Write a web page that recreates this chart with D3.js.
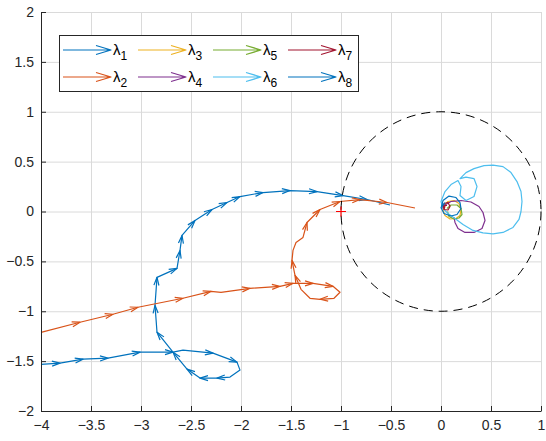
<!DOCTYPE html>
<html lang="en">
<head>
  <meta charset="UTF-8" />
  <title>Eigenvalue trajectories</title>
  <script src="https://d3js.org/d3.v7.min.js"></script>
  <style>
    body { margin: 0; background: #ffffff; }
    svg { font-family: 'Liberation Sans', Arial, sans-serif; }
    .axis text { font-size: 14px; fill: #262626; }
    .axis path, .axis line { stroke: #262626; }
    .grid line { stroke: #dadada; }
    .grid path { display: none; }
    .traj { fill: none; stroke-width: 1.2; stroke-linejoin: round; }
  </style>
</head>
<body>
  <svg id="chart" width="546" height="441"></svg>

  <script>
    // ---- data ----
    const xTicks = [-4, -3.5, -3, -2.5, -2, -1.5, -1, -0.5, 0, 0.5, 1];
    const yTicks = [-2, -1.5, -1, -0.5, 0, 0.5, 1, 1.5, 2];

    const seriesNames = ["1", "2", "3", "4", "5", "6", "7", "8"];
    const seriesColors = ["#0072BD", "#D95319", "#EDB120", "#7E2F8E",
                          "#77AC30", "#4DBEEE", "#A2142F", "#0072BD"];

    const lambda1 = [[-4.12,-1.54],[-3.81,-1.52],[-3.58,-1.48],[-3.33,-1.47],[-3.01,-1.41],
      [-2.68,-1.41],[-2.58,-1.39],[-2.28,-1.42],[-2.04,-1.51],[-2.01,-1.59],[-2.11,-1.66],
      [-2.24,-1.67],[-2.41,-1.67],[-2.54,-1.58],[-2.68,-1.41],[-2.84,-1.21],[-2.86,-0.94],
      [-2.84,-0.66],[-2.64,-0.57],[-2.61,-0.39],[-2.59,-0.24],[-2.46,-0.09],[-2.29,0.02],
      [-2.14,0.09],[-2.01,0.15],[-1.78,0.19],[-1.51,0.21],[-1.24,0.20],[-0.98,0.16],
      [-0.74,0.12],[-0.51,0.065]];

    const lambda2 = [[-4.1,-1.23],[-3.99,-1.21],[-3.61,-1.11],[-3.28,-1.03],[-3.03,-0.96],
      [-2.58,-0.87],[-2.30,-0.80],[-2.20,-0.81],[-1.91,-0.77],[-1.61,-0.75],[-1.48,-0.72],
      [-1.28,-0.72],[-1.08,-0.75],[-1.01,-0.81],[-1.07,-0.87],[-1.21,-0.88],[-1.31,-0.87],
      [-1.40,-0.78],[-1.46,-0.64],[-1.49,-0.49],[-1.48,-0.39],[-1.45,-0.31],[-1.38,-0.26],
      [-1.34,-0.11],[-1.21,0.02],[-1.01,0.10],[-0.81,0.12],[-0.54,0.09],[-0.26,0.035]];

    const lambda3 = [[0.03,0.06],[0.07,0.10],[0.13,0.11],[0.18,0.08],[0.20,0.02],[0.19,-0.04],
      [0.15,-0.07],[0.09,-0.075],[0.04,-0.04],[0.02,0.01],[0.04,0.05]];

    const lambda4 = [[0.03,0.06],[0.10,0.10],[0.20,0.11],[0.30,0.095],[0.38,0.05],[0.42,-0.01],
      [0.44,-0.09],[0.41,-0.17],[0.33,-0.21],[0.24,-0.21],[0.17,-0.17],[0.14,-0.11],[0.13,-0.06]];

    const lambda5 = [[0.06,0.03],[0.10,0.065],[0.16,0.065],[0.20,0.03],[0.21,-0.03],
      [0.18,-0.065],[0.13,-0.075],[0.08,-0.05],[0.065,0.0]];

    const lambda6 = [[0.02,0.03],[0.0,0.10],[0.04,0.20],[0.10,0.27],[0.17,0.31],[0.20,0.25],
      [0.19,0.16],[0.25,0.11],[0.33,0.15],[0.36,0.25],[0.33,0.33],[0.25,0.345],[0.19,0.33],
      [0.25,0.39],[0.33,0.43],[0.43,0.46],[0.52,0.465],[0.62,0.45],[0.70,0.39],[0.76,0.30],
      [0.80,0.20],[0.81,0.10],[0.80,0.0],[0.78,-0.08],[0.72,-0.16],[0.62,-0.21],[0.52,-0.225],
      [0.42,-0.215],[0.32,-0.19],[0.22,-0.13],[0.14,-0.07],[0.07,-0.02],[0.03,0.02]];

    const lambda7 = [[0.02,0.03],[0.03,0.08],[0.07,0.09],[0.09,0.05],[0.07,0.015],
      [0.03,0.02],[0.04,0.06],[0.06,0.06]];

    const lambda8 = [[0.0,0.03],[0.02,0.11],[0.08,0.155],[0.15,0.14],[0.19,0.09],[0.20,0.03],
      [0.16,-0.03],[0.10,-0.045],[0.03,-0.02],[0.0,0.04],[0.04,0.09]];

    const series = [lambda1, lambda2, lambda3, lambda4, lambda5, lambda6, lambda7, lambda8];

    // ---- layout ----
    const svg = d3.select("#chart");
    const mLeft = 41, mRight = 541, mTop = 12, mBottom = 411;

    const x = d3.scaleLinear().domain([-4, 1]).range([mLeft, mRight]);
    const y = d3.scaleLinear().domain([-2, 2]).range([mBottom, mTop]);

    svg.append("defs").append("clipPath").attr("id", "plotclip")
      .append("rect")
        .attr("x", mLeft).attr("y", mTop)
        .attr("width", mRight - mLeft).attr("height", mBottom - mTop);

    // grid
    svg.append("g")
        .attr("class", "grid")
        .attr("transform", `translate(0,${mBottom})`)
        .call(d3.axisBottom(x).tickValues(xTicks).tickSize(-(mBottom - mTop)).tickFormat(""));
    svg.append("g")
        .attr("class", "grid")
        .attr("transform", `translate(${mLeft},0)`)
        .call(d3.axisLeft(y).tickValues(yTicks).tickSize(-(mRight - mLeft)).tickFormat(""));

    // trajectories with arrow heads
    const plot = svg.append("g").attr("clip-path", "url(#plotclip)");
    const line = d3.line().x(d => x(d[0])).y(d => y(d[1]));

    function arrowHead(x1, y1, x2, y2, len, half) {
      const dx = x2 - x1, dy = y2 - y1;
      const L = Math.hypot(dx, dy);
      const ux = dx / L, uy = dy / L;
      const bx = x2 - ux * len, by = y2 - uy * len;
      return `M${bx - uy * half},${by + ux * half}L${x2},${y2}L${bx + uy * half},${by - ux * half}`;
    }

    series.forEach((pts, i) => {
      const g = plot.append("g");
      g.append("path")
        .attr("class", "traj")
        .attr("stroke", seriesColors[i])
        .attr("d", line(pts));
      let heads = "";
      // no head on the final segment
      for (let k = 1; k < pts.length - 1; k++) {
        const x1 = x(pts[k - 1][0]), y1 = y(pts[k - 1][1]);
        const x2 = x(pts[k][0]), y2 = y(pts[k][1]);
        if (Math.hypot(x2 - x1, y2 - y1) > 13) heads += arrowHead(x1, y1, x2, y2, 8, 2.5);
      }
      g.append("path")
        .attr("class", "traj")
        .attr("stroke", seriesColors[i])
        .attr("d", heads);
    });

    // unit circle and critical point
    svg.append("ellipse")
      .attr("cx", x(0)).attr("cy", y(0))
      .attr("rx", x(1) - x(0)).attr("ry", y(0) - y(1))
      .attr("fill", "none")
      .attr("stroke", "#000")
      .attr("stroke-width", 1)
      .attr("stroke-dasharray", "9,6");

    svg.append("path")
      .attr("d", `M${x(-1) - 5},${y(0)}h10M${x(-1)},${y(0) - 5}v10`)
      .attr("stroke", "#ff0000")
      .attr("stroke-width", 1.2);

    // axes (ticks inward)
    svg.append("g")
        .attr("class", "axis")
        .attr("transform", `translate(0,${mBottom})`)
        .call(d3.axisBottom(x).tickValues(xTicks).tickSize(-5).tickPadding(9).tickSizeOuter(0)
          .tickFormat(d3.format("")));
    svg.append("g")
        .attr("class", "axis")
        .attr("transform", `translate(${mLeft},0)`)
        .call(d3.axisLeft(y).tickValues(yTicks).tickSize(-5).tickPadding(7).tickSizeOuter(0)
          .tickFormat(d3.format("")));

    // legend
    const legend = svg.append("g");
    legend.append("rect")
      .attr("x", 59.5).attr("y", 35.5).attr("width", 299).attr("height", 56)
      .attr("fill", "#fff").attr("stroke", "#262626").attr("stroke-width", 1);

    seriesNames.forEach((name, i) => {
      const col = Math.floor(i / 2), row = i % 2;
      const lx = 63 + col * 75, ly = 50 + row * 27;
      legend.append("path")
        .attr("class", "traj")
        .attr("stroke", seriesColors[i])
        .attr("d", `M${lx},${ly}H${lx + 48}` + arrowHead(lx, ly, lx + 48, ly, 15, 4.5));
      const t = legend.append("text")
        .attr("x", lx + 50).attr("y", ly + 5)
        .attr("fill", "#000")
        .style("font-size", "15px");
      t.append("tspan").text("\u03bb");
      t.append("tspan").attr("dy", 5).style("font-size", "12px").text(name);
    });
  </script>
</body>
</html>
